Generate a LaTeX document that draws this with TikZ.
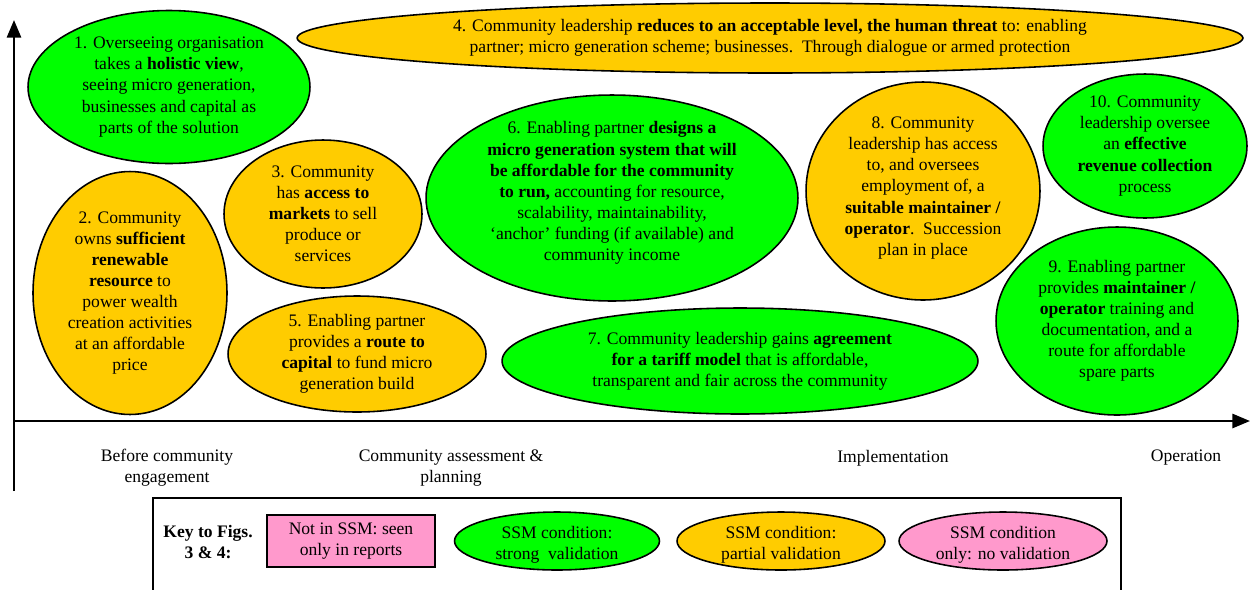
\documentclass[tikz,border=0pt]{standalone}
\usepackage{fontspec}
\setmainfont{Liberation Serif}
\usetikzlibrary{shapes.geometric,arrows.meta}

\definecolor{sgreen}{RGB}{0,255,0}
\definecolor{sgold}{RGB}{255,204,0}
\definecolor{spink}{RGB}{255,153,204}

\tikzset{
  cond/.style={ellipse,draw=black,line width=0.9pt,inner sep=0pt},
  strong/.style={cond,fill=sgreen},
  partial/.style={cond,fill=sgold},
  novalid/.style={cond,fill=spink},
  txt/.style={align=center,font=\fontsize{10}{12}\selectfont,inner sep=0pt},
  axis/.style={line width=1.4pt,-{Triangle[length=10pt,width=8pt]}}
}

\begin{document}
\begin{tikzpicture}[x=0.02cm,y=-0.02cm]
  \useasboundingbox (0,0) rectangle (1250,589);
  \clip (0,0) rectangle (1250,589);

  % axes
  \coordinate (origin) at (14,421);
  \coordinate (ybot) at (14,491);
  \coordinate (ytop) at (14,20);
  \coordinate (xend) at (1250,421);
  \draw[axis] (ybot) -- (ytop);
  \draw[axis] (origin) -- (xend);

  % conditions
  \node[strong, minimum width=5.64cm, minimum height=3.06cm] (c1) at (169,87) {};
  \node[txt] (t1) at (c1) {1. Overseeing organisation\\takes a \textbf{holistic view},\\seeing micro generation,\\businesses and capital as\\parts of the solution};

  \node[partial, minimum width=3.88cm, minimum height=4.86cm] (c2) at (130,293) {};
  \node[txt] (t2) at (c2) {2. Community\\owns \textbf{sufficient}\\\textbf{renewable}\\\textbf{resource} to\\power wealth\\creation activities\\at an affordable\\price};

  \node[partial, minimum width=3.96cm, minimum height=2.96cm] (c3) at (323,214) {};
  \node[txt] (t3) at (c3) {3. Community\\has \textbf{access to}\\\textbf{markets} to sell\\produce or\\services};

  \node[partial, minimum width=18.92cm, minimum height=1.40cm] (c4) at (770,38) {};
  \node[txt] (t4) at (c4) {4. Community leadership \textbf{reduces to an acceptable level, the human threat} to: enabling\\partner; micro generation scheme; businesses.\ \ Through dialogue or armed protection};

  \node[partial, minimum width=5.16cm, minimum height=2.32cm] (c5) at (357,354) {};
  \node[txt] (t5) at (c5) {5. Enabling partner\\provides a \textbf{route to}\\\textbf{capital} to fund micro\\generation build};

  \node[strong, minimum width=7.44cm, minimum height=4.12cm] (c6) at (612,198) {};
  \node[txt, yshift=0.1cm] (t6) at (c6) {6. Enabling partner \textbf{designs a}\\\textbf{micro generation system that will}\\\textbf{be affordable for the community}\\\textbf{to run,} accounting for resource,\\scalability, maintainability,\\‘anchor’ funding (if available) and\\community income};

  \node[strong, minimum width=9.52cm, minimum height=2.12cm] (c7) at (740,361) {};
  \node[txt] (t7) at (c7) {7. Community leadership gains \textbf{agreement}\\\textbf{for a tariff model} that is affordable,\\transparent and fair across the community};

  \node[partial, minimum width=4.68cm, minimum height=4.36cm] (c8) at (923,191) {};
  \node[txt, yshift=0.06cm] (t8) at (c8) {8. Community\\leadership has access\\to, and oversees\\employment of, a\\\textbf{suitable maintainer /}\\\textbf{operator}.\ \ Succession\\plan in place};

  \node[strong, minimum width=4.84cm, minimum height=3.76cm] (c9) at (1117,321) {};
  \node[txt] (t9) at (c9) {9. Enabling partner\\provides \textbf{maintainer /}\\\textbf{operator} training and\\documentation, and a\\route for affordable\\spare parts};

  \node[strong, minimum width=4.08cm, minimum height=2.88cm] (c10) at (1145,146) {};
  \node[txt] (t10) at (c10) {10. Community\\leadership oversee\\an \textbf{effective}\\\textbf{revenue collection}\\process};

  % stages
  \node[txt] (s1) at (167,468) {Before community\\engagement};
  \node[txt] (s2) at (451,468) {Community assessment \&\\planning};
  \node[txt] (s3) at (893,458) {Implementation};
  \node[txt] (s4) at (1186,458) {Operation};

  % key
  \draw[line width=1.1pt] (153,498) rectangle (1121,600);
  \node[txt, font=\fontsize{10}{12}\selectfont\bfseries] (key) at (208,542) {Key to Figs.\\3 \& 4:};
  \node[draw=black, line width=1.3pt, fill=spink, minimum width=3.36cm, minimum height=1.04cm, txt] (k1) at (351,541) {Not in SSM: seen\\only in reports};
  \node[strong, minimum width=4.10cm, minimum height=1.16cm] (k2) at (557,541) {};
  \node[txt] (kt2) at ([yshift=-0.08cm]k2) {SSM condition:\\strong\ \ validation};
  \node[partial, minimum width=4.16cm, minimum height=1.16cm] (k3) at (781,541) {};
  \node[txt] (kt3) at ([yshift=-0.08cm]k3) {SSM condition:\\partial validation};
  \node[novalid, minimum width=4.16cm, minimum height=1.16cm] (k4) at (1003,541) {};
  \node[txt] (kt4) at ([yshift=-0.08cm]k4) {SSM condition\\only: no validation};
\end{tikzpicture}
\end{document}
